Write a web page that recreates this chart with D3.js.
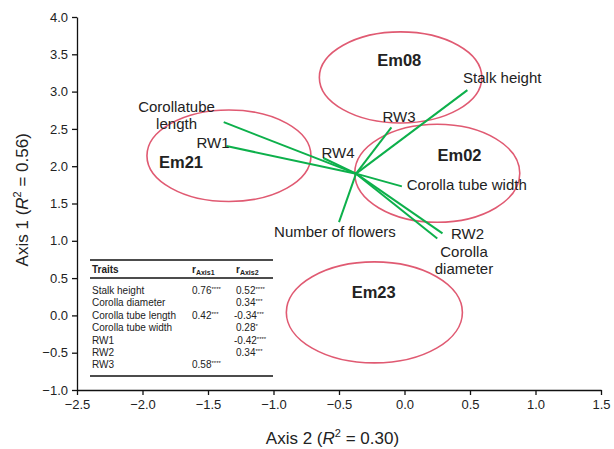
<!DOCTYPE html>
<html lang="en">
  <head>
    <meta charset="utf-8">
    <title>Axis biplot</title>
    <script src="https://d3js.org/d3.v7.min.js"></script>
    <style>
      body { margin: 0; background: #fff; }
      text { font-family: "Liberation Sans", Arial, sans-serif; fill: #222; }
      .axis text { font-size: 13px; }
      .axis path, .axis line { stroke: #111; stroke-width: 1.3px; }
    </style>
  </head>
  <body>
    <svg id="chart" width="614" height="449"></svg>
    <script>
      // x = Axis 2, y = Axis 1
      var vectorOrigin = [-0.37, 1.9];
      var vectorNames = ["Stalk height", "RW3", "Corolla tube length", "RW1", "RW4",
                         "Corolla tube width", "Number of flowers", "RW2", "Corolla diameter"];
      var vectorX = [0.48, -0.10, -1.38, -1.36, -0.62, -0.02, -0.50, 0.29, 0.25];
      var vectorY = [3.02, 2.52, 2.59, 2.27, 2.11, 1.73, 1.25, 1.10, 1.03];

      var groups = ["Em08", "Em02", "Em21", "Em23"];
      var groupX = [-0.03, 0.25, -1.34, -0.23];
      var groupY = [3.19, 1.905, 2.14, 0.04];
      var groupRx = [0.62, 0.63, 0.626, 0.672];
      var groupRy = [0.61, 0.657, 0.614, 0.677];

      var xTicks = [-2.5, -2.0, -1.5, -1.0, -0.5, 0.0, 0.5, 1.0, 1.5];
      var yTicks = [-1.0, -0.5, 0.0, 0.5, 1.0, 1.5, 2.0, 2.5, 3.0, 3.5, 4.0];

      var traits = ["Stalk height", "Corolla diameter", "Corolla tube length",
                    "Corolla tube width", "RW1", "RW2", "RW3"];
      var rAxis1 = ["0.76****", "", "0.42***", "", "", "", "0.58****"];
      var rAxis2 = ["0.52****", "0.34***", "-0.34***", "0.28*", "-0.42****", "0.34***", ""];

      var svg = d3.select("#chart");
      var margin = {left: 77, right: 13, top: 17, bottom: 59};
      var width = 614 - margin.left - margin.right;
      var height = 449 - margin.top - margin.bottom;

      var x = d3.scaleLinear().domain([-2.5, 1.5]).range([margin.left, margin.left + width]);
      var y = d3.scaleLinear().domain([-1, 4]).range([margin.top + height, margin.top]);

      var fmt = d3.format(".1f");

      svg.append("g").attr("class", "axis")
        .attr("transform", "translate(0," + (margin.top + height) + ")")
        .call(d3.axisBottom(x).tickValues(xTicks).tickFormat(fmt).tickSize(5).tickSizeOuter(0).tickPadding(5));

      svg.append("g").attr("class", "axis")
        .attr("transform", "translate(" + margin.left + ",0)")
        .call(d3.axisLeft(y).tickValues(yTicks).tickFormat(fmt).tickSize(5).tickSizeOuter(0).tickPadding(4));

      // axis titles
      var xt = svg.append("text").attr("x", x(-0.55)).attr("y", 444)
        .attr("text-anchor", "middle").style("font-size", "17px");
      xt.append("tspan").text("Axis 2 (");
      xt.append("tspan").style("font-style", "italic").text("R");
      xt.append("tspan").attr("dy", -7).style("font-size", "11px").text("2");
      xt.append("tspan").attr("dy", 7).text(" = 0.30)");

      var yt = svg.append("text")
        .attr("transform", "translate(28," + y(1.55) + ") rotate(-90)")
        .attr("text-anchor", "middle").style("font-size", "17px");
      yt.append("tspan").text("Axis 1 (");
      yt.append("tspan").style("font-style", "italic").text("R");
      yt.append("tspan").attr("dy", -7).style("font-size", "11px").text("2");
      yt.append("tspan").attr("dy", 7).text(" = 0.56)");

      // group ellipses
      svg.selectAll(".grp")
        .data(groups)
        .enter()
        .append("ellipse")
        .attr("class", "grp")
        .attr("cx", function(d, i) { return x(groupX[i]); })
        .attr("cy", function(d, i) { return y(groupY[i]); })
        .attr("rx", function(d, i) { return x(groupRx[i]) - x(0); })
        .attr("ry", function(d, i) { return y(0) - y(groupRy[i]); })
        .attr("fill", "none")
        .attr("stroke", "#e05a72")
        .attr("stroke-width", 1.6);

      var groupLabelPos = [[-0.04, 3.343], [0.42, 2.07], [-1.706, 1.976], [-0.235, 0.233]];
      svg.selectAll(".grpLabel")
        .data(groups)
        .enter()
        .append("text")
        .attr("x", function(d, i) { return x(groupLabelPos[i][0]); })
        .attr("y", function(d, i) { return y(groupLabelPos[i][1]); })
        .attr("text-anchor", "middle")
        .style("font-size", "16.5px")
        .style("font-weight", "bold")
        .text(function(d) { return d; });

      // trait vectors
      svg.selectAll(".vec")
        .data(vectorNames)
        .enter()
        .append("line")
        .attr("class", "vec")
        .attr("x1", x(vectorOrigin[0]))
        .attr("y1", y(vectorOrigin[1]))
        .attr("x2", function(d, i) { return x(vectorX[i]); })
        .attr("y2", function(d, i) { return y(vectorY[i]); })
        .attr("stroke", "#0db04b")
        .attr("stroke-width", 2);

      // vector labels: [lines], anchor point (data units), text-anchor
      var vecLabels = [
        {lines: ["Stalk height"], at: [0.447, 3.115], anchor: "start"},
        {lines: ["RW3"], at: [-0.042, 2.597], anchor: "middle"},
        {lines: ["Corollatube", "length"], at: [-1.74, 2.731], anchor: "middle"},
        {lines: ["RW1"], at: [-1.462, 2.244], anchor: "middle"},
        {lines: ["RW4"], at: [-0.508, 2.11], anchor: "middle"},
        {lines: ["Corolla tube width"], at: [0.017, 1.681], anchor: "start"},
        {lines: ["Number of flowers"], at: [-0.531, 1.051], anchor: "middle"},
        {lines: ["RW2"], at: [0.355, 1.024], anchor: "start"},
        {lines: ["Corolla", "diameter"], at: [0.454, 0.787], anchor: "middle"}
      ];
      vecLabels.forEach(function(l) {
        var t = svg.append("text")
          .attr("x", x(l.at[0])).attr("y", y(l.at[1]))
          .attr("text-anchor", l.anchor)
          .style("font-size", "15px");
        l.lines.forEach(function(s, k) {
          t.append("tspan").attr("x", x(l.at[0])).attr("dy", k ? 17.8 : 0).text(s);
        });
      });

      // correlation table
      var tb = svg.append("g").attr("transform", "translate(88,256)");
      tb.append("rect").attr("x", 0).attr("y", 0).attr("width", 188).attr("height", 124).attr("fill", "#fff");
      tb.append("line").attr("x1", 2).attr("x2", 185).attr("y1", 4).attr("y2", 4).attr("stroke", "#111").attr("stroke-width", 1.6);
      tb.append("line").attr("x1", 2).attr("x2", 185).attr("y1", 22).attr("y2", 22).attr("stroke", "#111").attr("stroke-width", 1.3);
      tb.append("line").attr("x1", 2).attr("x2", 185).attr("y1", 120).attr("y2", 120).attr("stroke", "#111").attr("stroke-width", 1.6);
      tb.append("text").attr("x", 4).attr("y", 17).style("font-size", "10px").style("font-weight", "bold").text("Traits");
      [["r", "Axis1", 104], ["r", "Axis2", 148]].forEach(function(h) {
        var t = tb.append("text").attr("x", h[2]).attr("y", 17).style("font-size", "10px").style("font-weight", "bold");
        t.append("tspan").text(h[0]);
        t.append("tspan").attr("dy", 2).style("font-size", "7px").text(h[1]);
      });
      function cell(s, xx, yy) {
        var m = s.match(/^([^*]*)(\**)$/);
        var t = tb.append("text").attr("x", xx).attr("y", yy).style("font-size", "10px");
        t.append("tspan").text(m[1]);
        if (m[2]) t.append("tspan").attr("dy", -3).style("font-size", "6px").text(m[2]);
      }
      traits.forEach(function(d, i) {
        var yy = 38 + i * 12.4;
        tb.append("text").attr("x", 4).attr("y", yy).style("font-size", "10px").text(d);
        if (rAxis1[i]) cell(rAxis1[i], 104, yy);
        if (rAxis2[i]) cell(rAxis2[i], rAxis2[i][0] === "-" ? 146 : 148, yy);
      });
    </script>
  </body>
</html>
